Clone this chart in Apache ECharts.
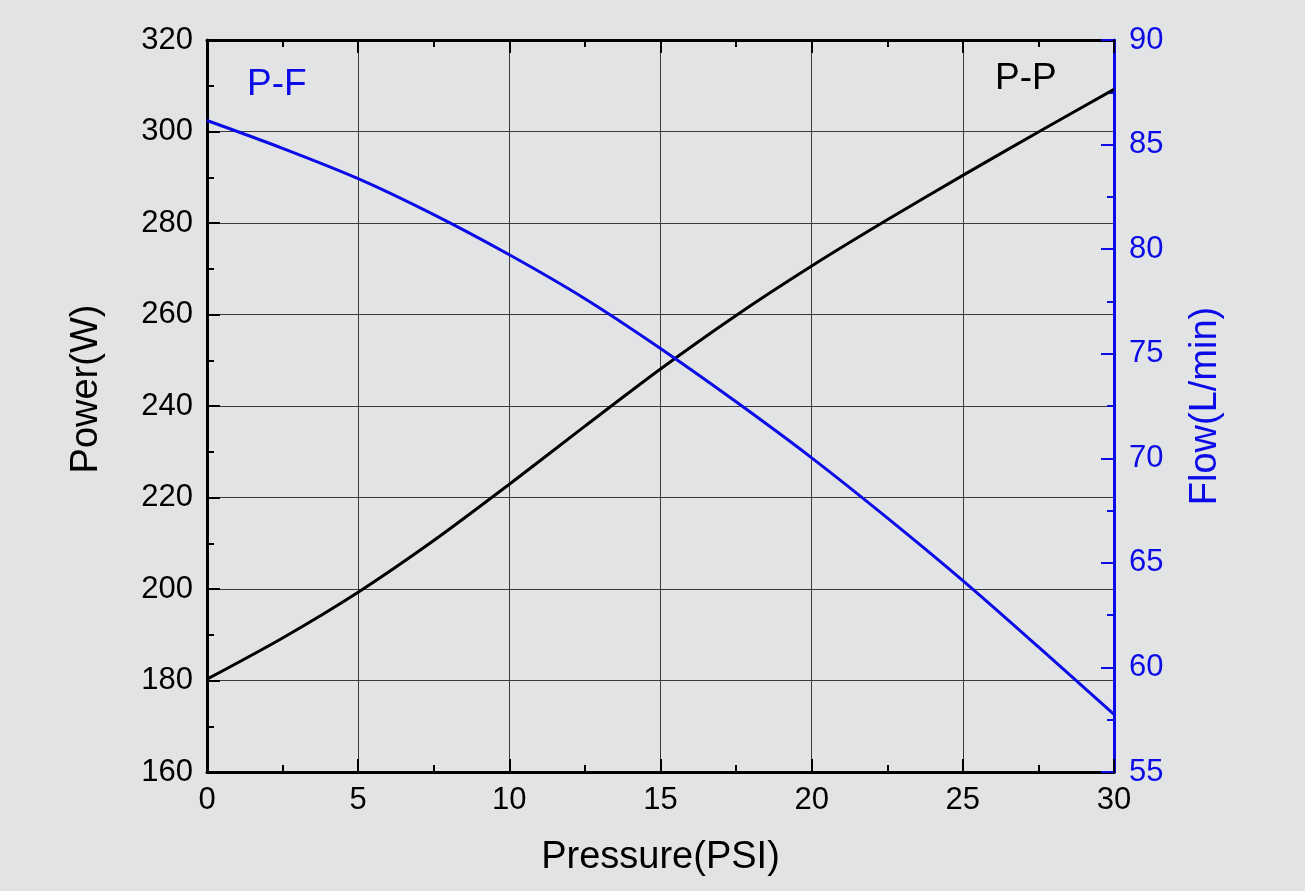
<!DOCTYPE html>
<html>
<head>
<meta charset="utf-8">
<script src="https://cdn.jsdelivr.net/npm/echarts@6/dist/echarts.min.js"></script>
<style>
html,body{margin:0;padding:0;background:#e2e3e5;}
#c{width:1305px;height:891px;}
</style>
</head>
<body>
<div id="c"></div>
<script>
const pressure = [0, 2.5, 5, 7.5, 10, 12.5, 15, 17.5, 20, 22.5, 25, 27.5, 30];
const power    = [180.3, 189.3, 199.3, 210.6, 222.9, 235.6, 248.1, 259.8, 270.6, 280.7, 290.4, 299.9, 309.2];
const flow     = [86.15, 84.82, 83.37, 81.65, 79.73, 77.63, 75.25, 72.7, 70.02, 67.15, 64.15, 60.98, 57.75];
const xTitle = 'Pressure(PSI)';
const yLeftTitle = 'Power(W)';
const yRightTitle = 'Flow(L/min)';
const labelPF = 'P-F';
const labelPP = 'P-P';

const BLUE = '#0b0be8';
const FONT = '"Liberation Sans", Arial, sans-serif';

const chart = echarts.init(document.getElementById('c'), null, {renderer: 'canvas'});
const tickFont = {fontFamily: FONT, fontSize: 31, color: '#000'};

chart.setOption({
  backgroundColor: '#e2e3e5',
  animation: false,
  grid: {left: 207, right: 191, top: 40, bottom: 119, containLabel: false},
  xAxis: [{
    type: 'value', min: 0, max: 30, interval: 5, position: 'bottom',
    name: xTitle, nameLocation: 'middle', nameGap: 67,
    nameTextStyle: {fontFamily: FONT, fontSize: 38, color: '#000'},
    axisLine: {show: true, onZero: false, lineStyle: {color: '#000', width: 3}},
    axisTick: {show: true, inside: true, length: 13, lineStyle: {color: '#000', width: 2}},
    minorTick: {show: true, splitNumber: 2, length: 7, lineStyle: {color: '#000', width: 2}},
    axisLabel: Object.assign({margin: 13}, tickFont),
    splitLine: {show: true, lineStyle: {color: '#3a3a3a', width: 1}}
  }, {
    type: 'value', min: 0, max: 30, interval: 5, position: 'top',
    axisLine: {show: true, onZero: false, lineStyle: {color: '#000', width: 3}},
    axisTick: {show: true, inside: true, length: 13, lineStyle: {color: '#000', width: 2}},
    minorTick: {show: true, splitNumber: 2, length: 7, lineStyle: {color: '#000', width: 2}},
    axisLabel: {show: false},
    splitLine: {show: false}
  }],
  yAxis: [{
    type: 'value', min: 160, max: 320, interval: 20, position: 'left',
    name: yLeftTitle, nameLocation: 'middle', nameGap: 101, nameRotate: 90,
    nameTextStyle: {fontFamily: FONT, fontSize: 38, color: '#000', padding: [0, 0, 0, 34]},
    axisLine: {show: true, onZero: false, lineStyle: {color: '#000', width: 3}},
    axisTick: {show: true, inside: true, length: 13, lineStyle: {color: '#000', width: 2}},
    minorTick: {show: true, splitNumber: 2, length: 7, lineStyle: {color: '#000', width: 2}},
    axisLabel: Object.assign({margin: 14}, tickFont),
    splitLine: {show: true, lineStyle: {color: '#3a3a3a', width: 1}}
  }, {
    type: 'value', min: 55, max: 90, interval: 5, position: 'right',
    name: yRightTitle, nameLocation: 'middle', nameGap: 73, nameRotate: 90,
    nameTextStyle: {fontFamily: FONT, fontSize: 38, color: BLUE},
    axisLine: {show: true, onZero: false, lineStyle: {color: BLUE, width: 3}},
    axisTick: {show: true, inside: true, length: 13, lineStyle: {color: BLUE, width: 2}},
    minorTick: {show: true, splitNumber: 2, length: 7, lineStyle: {color: BLUE, width: 2}},
    axisLabel: {margin: 15, fontFamily: FONT, fontSize: 31, color: BLUE},
    splitLine: {show: false}
  }],
  series: [{
    name: 'P-P', type: 'line', xAxisIndex: 0, yAxisIndex: 0,
    data: pressure.map((p, i) => [p, power[i]]),
    smooth: 0.3, showSymbol: false, symbol: 'none',
    lineStyle: {color: '#000', width: 3}, z: 5
  }, {
    name: 'P-F', type: 'line', xAxisIndex: 0, yAxisIndex: 1,
    data: pressure.map((p, i) => [p, flow[i]]),
    smooth: 0.3, showSymbol: false, symbol: 'none',
    lineStyle: {color: BLUE, width: 3}, z: 5
  }],
  graphic: [{
    type: 'text', left: 247, top: 66,
    style: {text: labelPF, fontFamily: FONT, fontSize: 37, fill: BLUE}
  }, {
    type: 'text', left: 995, top: 60,
    style: {text: labelPP, fontFamily: FONT, fontSize: 37, fill: '#000'}
  }]
});
</script>
</body>
</html>
